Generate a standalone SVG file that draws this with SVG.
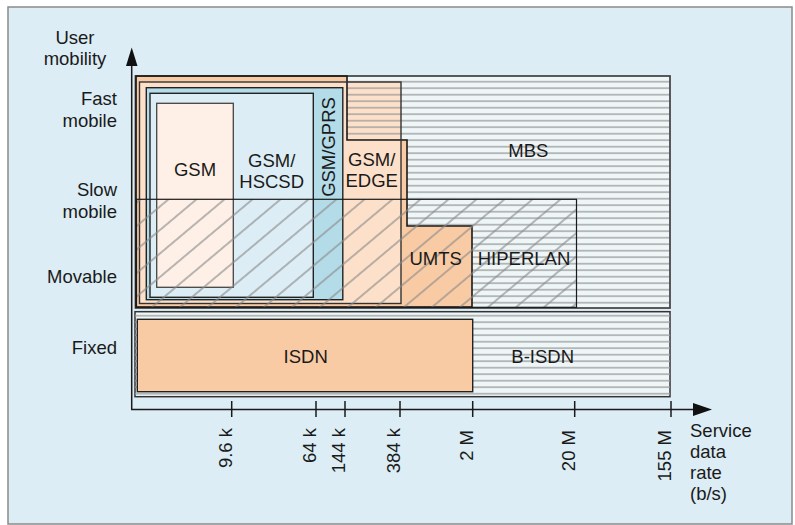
<svg xmlns="http://www.w3.org/2000/svg" width="795" height="525" viewBox="0 0 795 525">
<style>
text{font-family:"Liberation Sans","Open Sans",sans-serif;font-size:18.5px;fill:#1a1a1a}
.c{text-anchor:middle}
.e{text-anchor:end}
.box{stroke:#222;stroke-width:1.4}
.ax{stroke:#1a1a1a;stroke-width:1.5;fill:none}
</style>
<defs>
<pattern id="hz" patternUnits="userSpaceOnUse" width="20" height="6.5">
<line x1="0" y1="3.7" x2="20" y2="3.7" stroke="#9a9a9a" stroke-width="1.3"/>
</pattern>
<pattern id="dg" patternUnits="userSpaceOnUse" width="20" height="18" patternTransform="rotate(-40)">
<line x1="0" y1="9" x2="20" y2="9" stroke="#8a8a8a" stroke-width="1.2"/>
</pattern>
</defs>
<rect x="8" y="7" width="784" height="517" fill="#dcedf5" stroke="#8a8a8a" stroke-width="1.5"/>

<g id="axes">
<line class="ax" x1="131.7" y1="64" x2="131.7" y2="409.5"/>
<line class="ax" x1="131" y1="409.5" x2="695" y2="409.5"/>
<polygon points="131.7,47.5 126,66 137.5,66" fill="#111"/>
<polygon points="693,403 712,409.5 693,416" fill="#111"/>
<g stroke="#1a1a1a" stroke-width="1.5">
<line x1="231.7" y1="401" x2="231.7" y2="417"/>
<line x1="316" y1="401" x2="316" y2="417"/>
<line x1="345" y1="401" x2="345" y2="417"/>
<line x1="400" y1="401" x2="400" y2="417"/>
<line x1="472.7" y1="401" x2="472.7" y2="417"/>
<line x1="574.7" y1="401" x2="574.7" y2="417"/>
<line x1="671" y1="401" x2="671" y2="417"/>
</g>
<text class="e" transform="translate(231.5,428) rotate(-90)">9.6 k</text>
<text class="e" transform="translate(316,428) rotate(-90)">64 k</text>
<text class="e" transform="translate(345,428) rotate(-90)">144 k</text>
<text class="e" transform="translate(400,428) rotate(-90)">384 k</text>
<text class="e" transform="translate(473,430) rotate(-90)">2 M</text>
<text class="e" transform="translate(575,430) rotate(-90)">20 M</text>
<text class="e" transform="translate(671,430) rotate(-90)">155 M</text>
<text class="c" x="75" y="44">User</text>
<text class="c" x="75" y="65">mobility</text>
<text class="e" x="117" y="105">Fast</text>
<text class="e" x="117" y="127">mobile</text>
<text class="e" x="117" y="196">Slow</text>
<text class="e" x="117" y="218">mobile</text>
<text class="e" x="117" y="283">Movable</text>
<text class="e" x="117" y="354">Fixed</text>
<text x="690" y="437">Service</text>
<text x="690" y="458">data</text>
<text x="690" y="479">rate</text>
<text x="690" y="500">(b/s)</text>
</g>

<g id="mbs">
<rect x="135.5" y="76" width="534.5" height="232" fill="#eef6f8"/>
</g>
<g id="umts">
<path d="M136,76 H347 V140 H407 V226 H472 V307 H136 Z" fill="#f9cba5"/>
</g>
<g id="edge">
<rect x="139.5" y="82" width="261.5" height="221.5" fill="#fde0c9"/>
</g>
<path d="M135.5,76 H670 V308 H135.5 Z M136,76 H347 V140 H407 V226 H472 V307 H136 Z" fill="url(#hz)" fill-rule="evenodd"/>
<rect x="135.5" y="76" width="534.5" height="232" fill="none" stroke="#4a4a4a" stroke-width="1.8"/>
<path d="M136,76 H347 V140 H407 V226 H472 V307 H136 Z" fill="none" stroke="#1a1a1a" stroke-width="1.6"/>
<rect x="139.5" y="82" width="261.5" height="221.5" fill="none" stroke="#333" stroke-width="1.4"/>
<g id="gprs">
<rect x="146.3" y="87.7" width="196.5" height="212" fill="#b4dbe8" class="box"/>
<text class="c" transform="translate(335,147) rotate(-90)">GSM/GPRS</text>
</g>
<g id="hscsd">
<rect x="150" y="93.3" width="163.3" height="204" fill="#dcedf5" class="box"/>
</g>
<g id="gsm">
<rect x="156.7" y="103.3" width="76.6" height="184" fill="#fef0e6" stroke="#444" stroke-width="1.3"/>
</g>
<g id="hiperlan">
<rect x="136.5" y="199.3" width="440" height="108" fill="url(#dg)" stroke="#1a1a1a" stroke-width="1.2"/>
</g>
<g id="bisdn">
<rect x="135" y="311.7" width="535" height="85" fill="#eef6f8" stroke="#333" stroke-width="1.5"/>
<rect x="135" y="311.7" width="535" height="85" fill="url(#hz)"/>
</g>
<g id="isdn">
<rect x="137.3" y="319.3" width="335.4" height="72.4" fill="#f9cba5" class="box"/>
</g>
<g id="labels">
<text class="c" x="195" y="176">GSM</text>
<text class="c" x="271.7" y="166.5">GSM/</text>
<text class="c" x="271.7" y="187.5">HSCSD</text>
<text class="c" x="371.7" y="165.5">GSM/</text>
<text class="c" x="371.7" y="186.5">EDGE</text>
<text class="c" x="528.3" y="157.3">MBS</text>
<text class="c" x="435.7" y="265">UMTS</text>
<text class="c" x="524" y="265">HIPERLAN</text>
<text class="c" x="305.7" y="363.3">ISDN</text>
<text class="c" x="542.7" y="363.3">B-ISDN</text>
</g>
</svg>
